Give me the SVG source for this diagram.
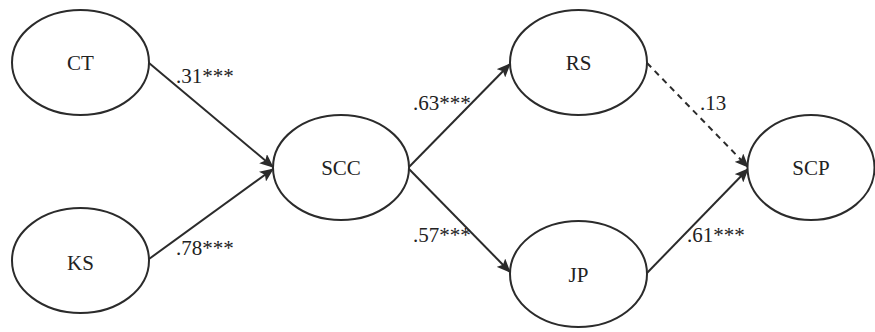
<svg xmlns="http://www.w3.org/2000/svg" width="875" height="332" viewBox="0 0 875 332">
<style>
.node ellipse{fill:#fff;stroke:#2b2b2b;stroke-width:2}
.node text{font-family:"Liberation Serif","Times New Roman",serif;font-size:21px;fill:#222;text-anchor:middle;dominant-baseline:central}
.edge{stroke:#2b2b2b;stroke-width:2;fill:none;marker-end:url(#arr)}
.dash{stroke-dasharray:6 5}
.lbl{font-family:"Liberation Serif","Times New Roman",serif;font-size:21px;fill:#222}
</style>
<defs>
<marker id="arr" markerUnits="userSpaceOnUse" markerWidth="14" markerHeight="12" viewBox="0 0 14 12" refX="13" refY="6" orient="auto">
<path d="M0,0 L14,6 L0,12 L3,6 z" fill="#2b2b2b"/>
</marker>
</defs>
<rect width="875" height="332" fill="#fff"/>
<g id="connectors">
<line class="edge" x1="149" y1="63" x2="273" y2="167"/>
<line class="edge" x1="149" y1="259" x2="273" y2="169"/>
<line class="edge" x1="409" y1="167" x2="510" y2="64"/>
<line class="edge" x1="409" y1="169" x2="510" y2="272"/>
<line class="edge dash" x1="647" y1="63" x2="748" y2="167"/>
<line class="edge" x1="647" y1="273" x2="748" y2="169"/>
</g>
<g id="CT" class="node"><ellipse cx="80.5" cy="62.5" rx="68.5" ry="52.5"/><text x="80.5" y="63">CT</text></g>
<g id="KS" class="node"><ellipse cx="80.5" cy="260.5" rx="68.5" ry="52.5"/><text x="80.5" y="263">KS</text></g>
<g id="SCC" class="node"><ellipse cx="341" cy="167.5" rx="68" ry="52.5"/><text x="341" y="168">SCC</text></g>
<g id="RS" class="node"><ellipse cx="578.5" cy="62.5" rx="68.5" ry="52.5"/><text x="578.5" y="63">RS</text></g>
<g id="JP" class="node"><ellipse cx="578.5" cy="274" rx="68.5" ry="53"/><text x="578.5" y="275">JP</text></g>
<g id="SCP" class="node"><ellipse cx="811" cy="167.5" rx="63.5" ry="52.5"/><text x="811" y="168">SCP</text></g>
<g id="labels">
<text class="lbl" x="176" y="83">.31***</text>
<text class="lbl" x="176" y="255">.78***</text>
<text class="lbl" x="413" y="110">.63***</text>
<text class="lbl" x="413" y="242">.57***</text>
<text class="lbl" x="700" y="110">.13</text>
<text class="lbl" x="687" y="242">.61***</text>
</g>
</svg>
